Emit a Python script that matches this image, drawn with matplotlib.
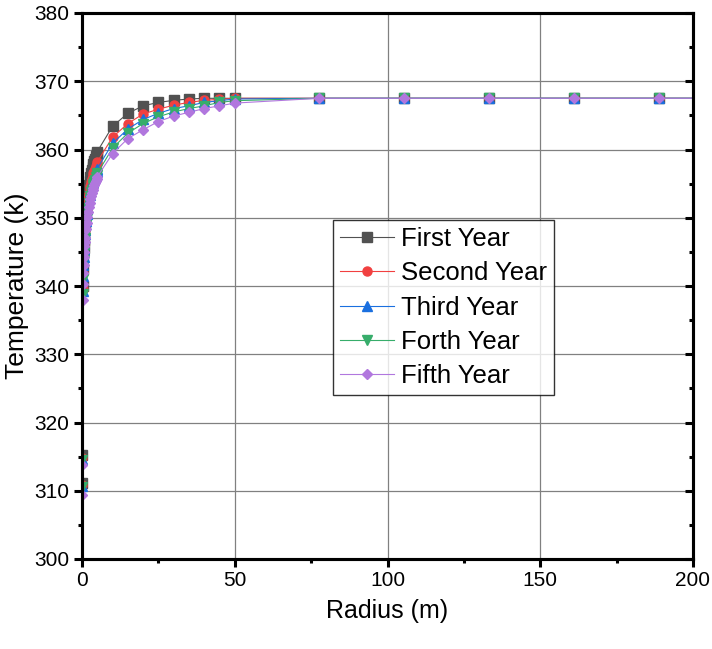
import matplotlib
matplotlib.use("Agg")
import matplotlib.pyplot as plt
from matplotlib.ticker import MultipleLocator

plt.rcParams['font.family'] = ['Liberation Sans', 'DejaVu Sans']

# radius (m) at which the temperature was sampled
radius = [0.02, 0.05, 0.2, 0.3, 0.4, 0.5, 0.6, 0.7, 0.8, 0.9, 1.0, 1.25, 1.5, 1.75,
          2.0, 2.25, 2.5, 2.75, 3.0, 3.25, 3.5, 3.75, 4.0, 4.25, 4.5, 4.75, 5.0,
          10, 15, 20, 25, 30, 35, 40, 45, 50,
          77.6, 105.4, 133.2, 161.0, 188.8, 216.6]

# temperature (k) per year
first_year = [311.1, 315.2, 340.0, 342.5, 344.2, 345.6, 346.7, 347.6, 348.5, 349.2,
              349.8, 351.2, 352.3, 353.2, 354.1, 354.8, 355.4, 356.0, 356.5, 357.0,
              357.5, 357.9, 358.3, 358.6, 359.0, 359.3, 359.7,
              363.4, 365.3, 366.4, 366.9, 367.2, 367.4, 367.5, 367.5, 367.5,
              367.5, 367.5, 367.5, 367.5, 367.5, 367.5]
second_year = [310.8, 314.8, 339.5, 341.9, 343.5, 344.8, 345.9, 346.8, 347.5, 348.2,
               348.8, 350.1, 351.2, 352.1, 352.9, 353.5, 354.2, 354.7, 355.2, 355.7,
               356.1, 356.5, 356.9, 357.2, 357.6, 357.9, 358.2,
               361.8, 363.8, 365.2, 365.9, 366.5, 366.9, 367.2, 367.35, 367.5,
               367.5, 367.5, 367.5, 367.5, 367.5, 367.5]
third_year = [310.7, 314.6, 339.2, 341.5, 343.1, 344.3, 345.4, 346.2, 347.0, 347.6,
              348.2, 349.5, 350.5, 351.3, 352.1, 352.8, 353.4, 353.9, 354.4, 354.8,
              355.3, 355.6, 356.0, 356.3, 356.6, 356.9, 357.2,
              360.9, 363.0, 364.4, 365.3, 366.0, 366.4, 366.9, 367.15, 367.4,
              367.5, 367.5, 367.5, 367.5, 367.5, 367.5]
forth_year = [310.5, 314.5, 338.8, 341.0, 342.6, 343.8, 344.8, 345.7, 346.4, 347.1,
              347.6, 348.9, 349.9, 350.7, 351.5, 352.1, 352.7, 353.2, 353.7, 354.1,
              354.6, 354.9, 355.3, 355.6, 355.9, 356.2, 356.5,
              360.2, 362.4, 363.8, 364.8, 365.5, 366.0, 366.4, 366.9, 367.15,
              367.5, 367.5, 367.5, 367.5, 367.5, 367.5]
fifth_year = [309.4, 313.8, 338.0, 340.3, 341.9, 343.1, 344.2, 345.0, 345.8, 346.4,
              347.0, 348.3, 349.3, 350.1, 350.9, 351.6, 352.1, 352.7, 353.2, 353.6,
              354.0, 354.4, 354.8, 355.1, 355.4, 355.7, 356.0,
              359.4, 361.6, 362.9, 364.1, 364.9, 365.45, 366.0, 366.4, 366.8,
              367.5, 367.5, 367.5, 367.5, 367.5, 367.5]

labels = ['First Year', 'Second Year', 'Third Year', 'Forth Year', 'Fifth Year']
colors = ['#515151', '#F14040', '#1A6FDF', '#37AD6B', '#B177DE']
markers = ['s', 'o', '^', 'v', 'D']
sizes = [6.5, 6.5, 7, 7, 5.5]

fig = plt.figure(figsize=(7.12, 6.49), dpi=100)
ax = fig.add_axes([82 / 712, (649 - 559) / 649, 611 / 712, 546 / 649])

series = [first_year, second_year, third_year, forth_year, fifth_year]
for temp, lab, col, mk, ms in zip(series, labels, colors, markers, sizes):
    ax.plot(radius, temp, color=col, marker=mk, markersize=ms, linewidth=0.8,
            label=lab, markevery=list(range(len(radius) - 1)))

ax.set_xlim(0, 200)
ax.set_ylim(300, 380)
ax.xaxis.set_major_locator(MultipleLocator(50))
ax.xaxis.set_minor_locator(MultipleLocator(25))
ax.yaxis.set_major_locator(MultipleLocator(10))
ax.yaxis.set_minor_locator(MultipleLocator(5))

ax.grid(True, which='major', color='#808080', linewidth=0.9)
ax.set_axisbelow(True)

for sp in ax.spines.values():
    sp.set_linewidth(2.2)

ax.tick_params(axis='both', which='major', direction='out', length=6, width=2.2,
               labelsize=15, pad=3)
ax.tick_params(axis='both', which='minor', direction='out', length=3, width=2.2)
ax.tick_params(top=False, right=False, which='both')

# inward ticks on the right spine
ay = ax.twinx()
ay.set_ylim(300, 380)
ay.yaxis.set_major_locator(MultipleLocator(10))
ay.yaxis.set_minor_locator(MultipleLocator(5))
ay.tick_params(which='major', direction='in', length=6, width=2.2, labelright=False)
ay.tick_params(which='minor', direction='in', length=3, width=2.2)
for sp in ay.spines.values():
    sp.set_linewidth(2.2)

ax.set_xlabel('Radius (m)', fontsize=18, labelpad=6)
ax.set_ylabel('Temperature (k)', fontsize=19, labelpad=4)

leg = ax.legend(loc='upper left', bbox_to_anchor=(0.411, 0.621), borderaxespad=0,
                fontsize=18.5, frameon=True, fancybox=False, edgecolor='black',
                handlelength=2.1, handletextpad=0.25, labelspacing=0.40,
                borderpad=0.28, markerscale=1.0)
leg.get_frame().set_linewidth(1.0)
leg.set_zorder(5)

fig.savefig('out.png', dpi=100)
